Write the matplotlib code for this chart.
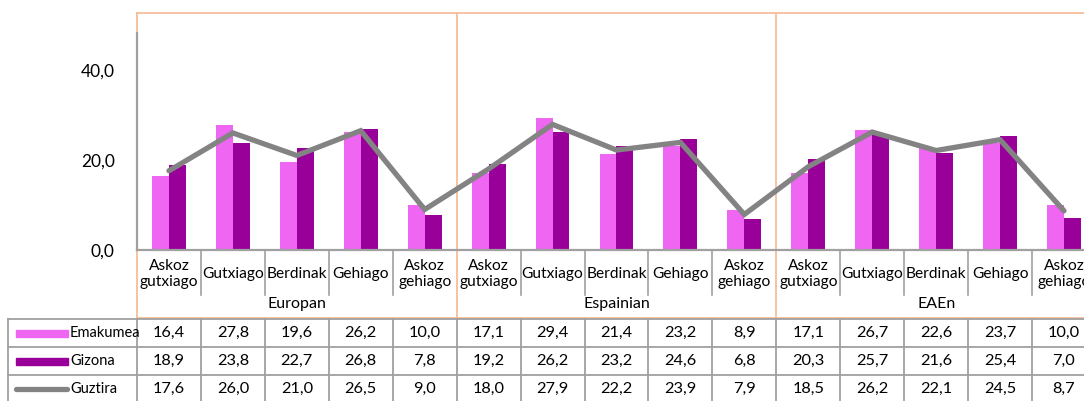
import matplotlib
matplotlib.use("Agg")
import matplotlib.pyplot as plt
from matplotlib.transforms import blended_transform_factory
import numpy as np

plt.rcParams['font.family'] = ['Lato', 'DejaVu Sans']

categories = ["Askoz\ngutxiago", "Gutxiago", "Berdinak", "Gehiago", "Askoz\ngehiago"] * 3
groups = ["Europan", "Espainian", "EAEn"]
emakumea = [16.4, 27.8, 19.6, 26.2, 10.0, 17.1, 29.4, 21.4, 23.2, 8.9, 17.1, 26.7, 22.6, 23.7, 10.0]
gizona = [18.9, 23.8, 22.7, 26.8, 7.8, 19.2, 26.2, 23.2, 24.6, 6.8, 20.3, 25.7, 21.6, 25.4, 7.0]
guztira = [17.6, 26.0, 21.0, 26.5, 9.0, 18.0, 27.9, 22.2, 23.9, 7.9, 18.5, 26.2, 22.1, 24.5, 8.7]
series_names = ["Emakumea", "Gizona", "Guztira"]
yticks = [0, 20, 40]

pink = "#EE66F2"
purple = "#990099"
grey = "#838383"
orange = "#F6BE98"
grid_grey = "#A0A0A0"

W, H = 1084, 401
fig = plt.figure(figsize=(W / 100, H / 100), dpi=100)

# overlay axes in pixel coordinates (y down)
over = fig.add_axes([0, 0, 1, 1])
over.set_xlim(0, W)
over.set_ylim(H, 0)
over.axis("off")

left, cw = 137, 63.93
n = len(categories)
ax = fig.add_axes([left / W, (H - 250) / H, n * cw / W, (250 - 33) / H])
ax.set_zorder(2)
ax.patch.set_alpha(0)

x = np.arange(n)
bw = 0.265
ax.bar(x - bw / 2, emakumea, bw, color=pink, zorder=2)
ax.bar(x + bw / 2, gizona, bw, color=purple, zorder=2)
ax.plot(x, guztira, color=grey, lw=3.8, solid_capstyle="round", solid_joinstyle="miter", zorder=3)

ax.set_xlim(-0.5, n - 0.5)
ax.set_ylim(0, 48.2)
ax.set_yticks(yticks)
ax.set_yticklabels([f"{v:.1f}".replace(".", ",") for v in yticks], fontsize=12.5)
ax.tick_params(axis="y", length=0, pad=16)
ax.set_xticks([])
for s in ["top", "right"]:
    ax.spines[s].set_visible(False)
for s in ["left", "bottom"]:
    ax.spines[s].set_color(grid_grey)
    ax.spines[s].set_linewidth(1.6)

bt = blended_transform_factory(ax.transData, over.transData)

# category tick separators
for i in range(n + 1):
    xb = i - 0.5
    if i % 5 == 0:
        over.plot([xb, xb], [13, 318], color=orange, lw=1.3, transform=bt, clip_on=False)
    else:
        over.plot([xb, xb], [250, 295], color=grid_grey, lw=1.2, transform=bt, clip_on=False)

# orange frame top and bottom
over.plot([-0.5, n - 0.5], [13, 13], color=orange, lw=1.3, transform=bt, clip_on=False)
over.plot([-0.5, n - 0.5], [318, 318], color=orange, lw=1.3, transform=bt, clip_on=False)

# category and group labels
for i, c in enumerate(categories):
    over.text(i, 274, c, ha="center", va="center", fontsize=11.2, linespacing=1.2,
              transform=bt)
for g, name in enumerate(groups):
    over.text(g * 5 + 2, 304, name, ha="center", va="center", fontsize=11.5, transform=bt)

# data table
rows_y = [319, 347, 375, 403]
for yy in rows_y:
    over.plot([8, W], [yy, yy], color=grid_grey, lw=1.3)
over.plot([8, 8], [319, 403], color=grid_grey, lw=1.3)
for i in range(n + 1):
    over.plot([i - 0.5, i - 0.5], [319, 403], color=grid_grey, lw=1.3, transform=bt,
              clip_on=False)

values = [emakumea, gizona, guztira]
for r, (name, vals) in enumerate(zip(series_names, values)):
    yc = (rows_y[r] + rows_y[r + 1]) / 2
    for i, v in enumerate(vals):
        over.text(i, yc, f"{v:.1f}".replace(".", ","), ha="center", va="center",
                  fontsize=11.8, transform=bt)
    over.text(70, yc, name, ha="left", va="center", fontsize=10.5)

over.add_patch(plt.Rectangle((16, 330), 52, 7, color=pink))
over.add_patch(plt.Rectangle((16, 358), 52, 7, color=purple))
over.plot([16, 67], [389, 389], color=grey, lw=3.8, solid_capstyle="round")

fig.savefig("out.png", dpi=100)
